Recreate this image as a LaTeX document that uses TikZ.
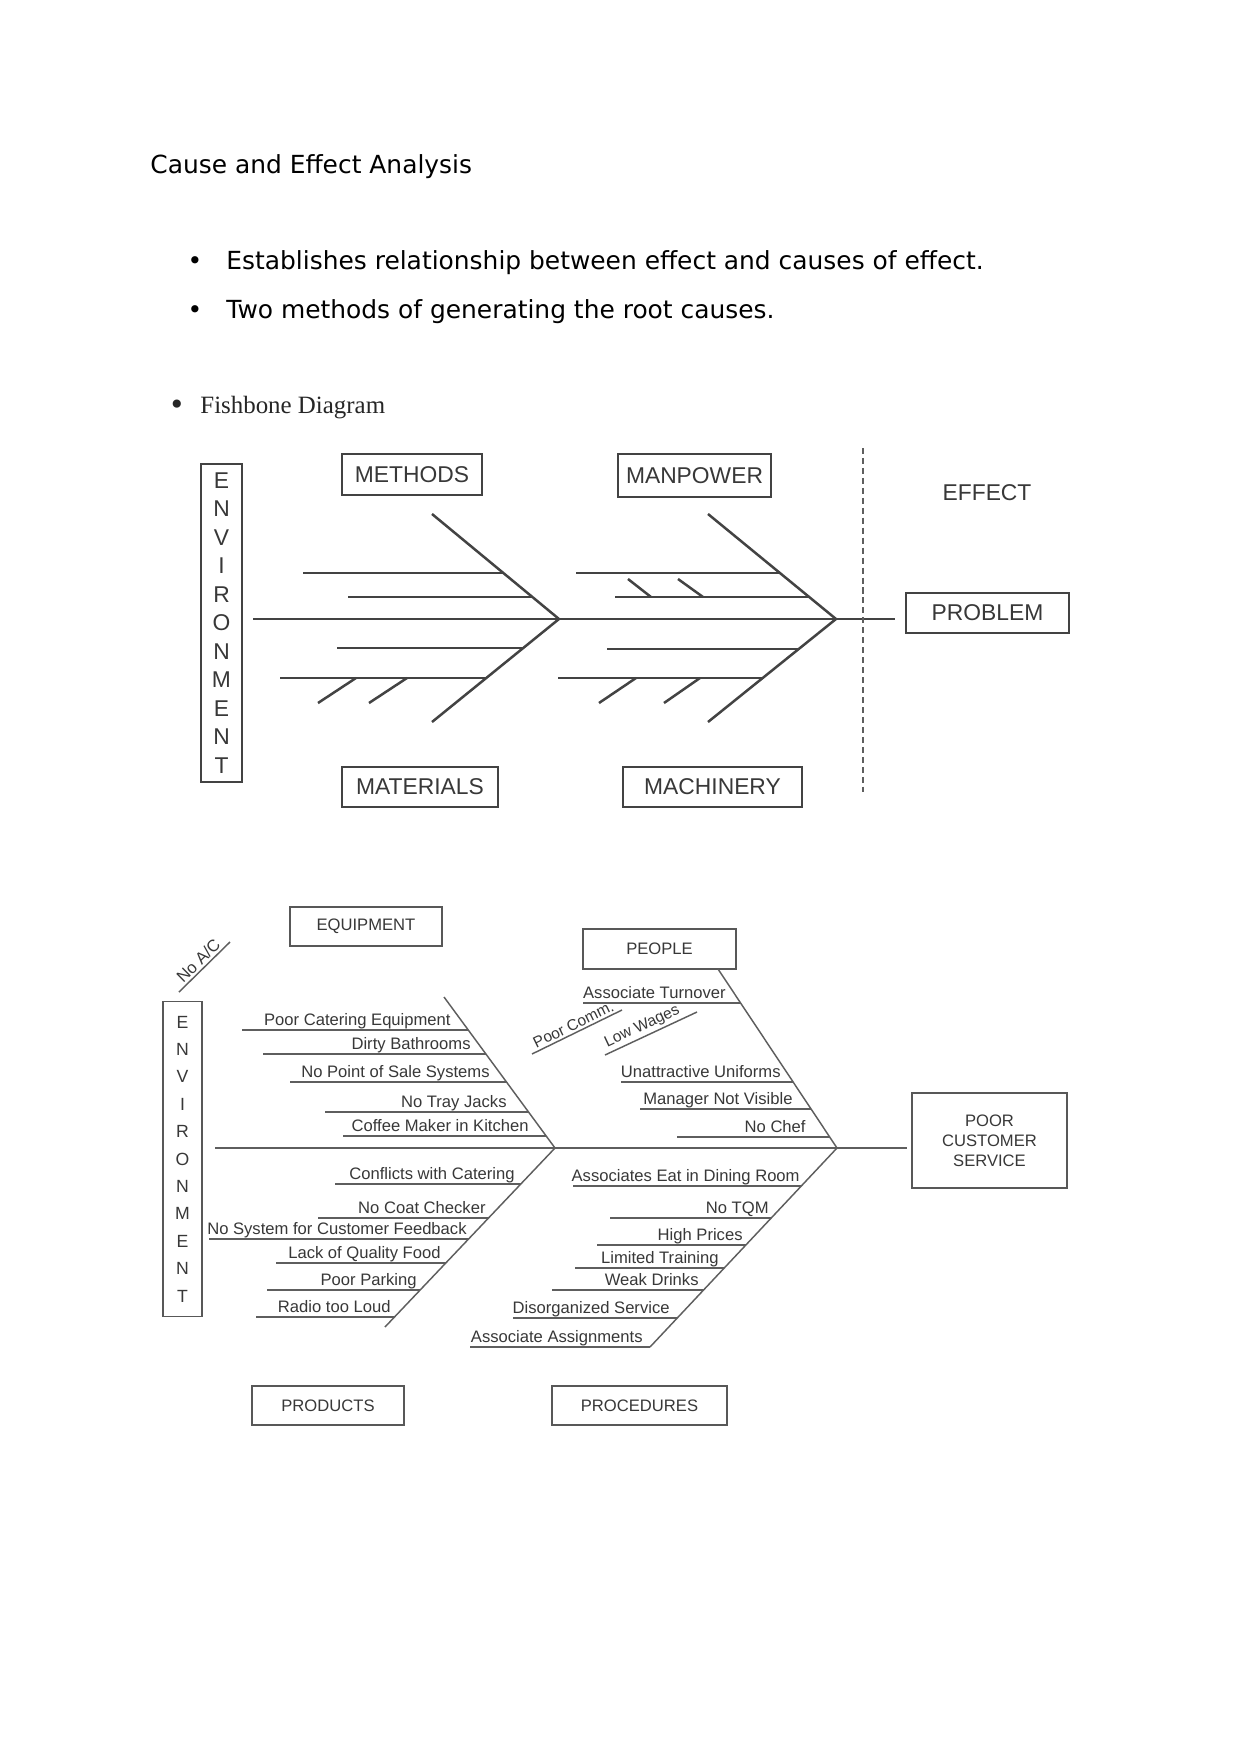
\documentclass[tikz,border=0pt]{standalone}
\usepackage{fontspec}
\setmainfont{DejaVu Sans}
\newfontfamily\helv{Liberation Sans}
\newfontfamily\tms{Liberation Serif}
\usetikzlibrary{positioning}
\definecolor{InkGray}  {HTML}{383838}
\definecolor{BoneGray} {HTML}{434343}
\definecolor{TwigGray} {HTML}{5E5E5E}
\definecolor{FrameGray}{HTML}{585858}
\tikzset{
  bigbox/.style={rectangle,draw=BoneGray,line width=1pt,inner sep=0pt,
                 font=\helv\fontsize{11}{13}\selectfont,text=InkGray},
  smallbox/.style={rectangle,draw=FrameGray,line width=0.8pt,inner sep=0pt,
                   font=\helv\fontsize{8}{9.6}\selectfont,text=InkGray},
  bone/.style={BoneGray,line width=1.2pt},
  twig/.style={TwigGray,line width=0.7pt},
  cause/.style={inner sep=0pt,anchor=base east,
                font=\helv\fontsize{8}{9.6}\selectfont,text=InkGray},
  tiltlbl/.style={inner sep=1pt,font=\helv\fontsize{7.5}{9}\selectfont,text=InkGray},
  bodytext/.style={inner sep=0pt,anchor=base west,font=\fontsize{12}{14}\selectfont},
}

\begin{document}
\begin{tikzpicture}[x=0.4818pt,y=-0.4818pt]
  \useasboundingbox[fill=white] (0,0) rectangle (1241,1754);

  \node[bodytext] (title) at (150,174) {Cause and Effect Analysis};
  \node[bodytext,anchor=base] (dot1) at (195,270) {•};
  \node[bodytext] (pt1) at (226,270) {Establishes relationship between effect and causes of effect.};
  \node[bodytext,anchor=base] (dot2) at (195,319) {•};
  \node[bodytext] (pt2) at (226,319) {Two methods of generating the root causes.};
  \node[bodytext,anchor=base,font=\fontsize{13.5}{14}\selectfont,text=black!85] (dot3) at (177,414) {•};
  \node[bodytext,font=\tms\fontsize{12}{14}\selectfont,text=black!85] (fish) at (200,413) {Fishbone Diagram};

  % generic fishbone
  \node[bigbox,minimum width=19.8pt,minimum height=153.2pt,align=center,
        font=\helv\fontsize{11}{13.73}\selectfont] (envA) at (221.5,623)
    {E\\N\\V\\I\\R\\O\\N\\M\\E\\N\\T};
  \node[bigbox,minimum width=67.5pt,minimum height=19.8pt] (methods)   at (412,474.5) {METHODS};
  \node[bigbox,minimum width=73.7pt,minimum height=20.7pt] (manpower)  at (694.5,475.5) {MANPOWER};
  \node[bigbox,minimum width=75.2pt,minimum height=19.3pt] (materials) at (420,787) {MATERIALS};
  \node[bigbox,minimum width=86.2pt,minimum height=19.3pt] (machinery) at (712.5,787) {MACHINERY};
  \node[bigbox,minimum width=78.5pt,minimum height=19.3pt] (problem)   at (987.5,613) {PROBLEM};
  \node[inner sep=0pt,font=\helv\fontsize{11}{13}\selectfont,text=InkGray] (effect) at (987,493) {EFFECT};

  \coordinate (headA) at (559,619);
  \coordinate (headB) at (836,619);
  \coordinate (tailA) at (253,619);
  \coordinate (tipA)  at (895,619);
  \draw[bone] (tailA) -- (tipA);
  \draw[bone] (432,514) -- (headA) -- (432,722);
  \draw[bone] (708,514) -- (headB) -- (708,722);

  \draw[bone] (303,573) -- (503.4,573);
  \draw[bone] (348,597) -- (532.4,597);
  \draw[bone] (337,648) -- (523.2,648);
  \draw[bone] (280,678) -- (486.3,678);
  \draw[bone] (318,703) -- (356,678);
  \draw[bone] (369,703) -- (407,678);

  \draw[bone] (576,573) -- (779.9,573);
  \draw[bone] (615,597) -- (809.2,597);
  \draw[bone] (628,579) -- (651,597);
  \draw[bone] (678,579) -- (703,597);
  \draw[bone] (607,649) -- (798.7,649);
  \draw[bone] (558,678) -- (762.7,678);
  \draw[bone] (599,703) -- (636,678);
  \draw[bone] (664,703) -- (700,678);

  \draw[TwigGray,line width=0.8pt,dash pattern=on 2.9pt off 1.9pt] (863,448) -- (863,792);

  % restaurant fishbone
  \node[smallbox,minimum width=18.8pt,minimum height=151.8pt,align=center,
        font=\helv\fontsize{8.5}{13.2}\selectfont] (envB) at (182.5,1159)
    {E\\N\\V\\I\\R\\O\\N\\M\\E\\N\\T};
  \node[smallbox,minimum width=73.2pt,minimum height=18.8pt] (equip)      at (366,926.5) {EQUIPMENT};
  \node[smallbox,minimum width=73.7pt,minimum height=19.3pt] (people)     at (659.5,949) {PEOPLE};
  \node[smallbox,minimum width=73.2pt,minimum height=18.8pt] (products)   at (328,1405.5) {PRODUCTS};
  \node[smallbox,minimum width=84.3pt,minimum height=18.8pt] (procedures) at (639.5,1405.5) {PROCEDURES};
  \node[smallbox,minimum width=74.7pt,minimum height=45.8pt,align=center] (pcs) at (989.5,1140.5)
    {POOR\\CUSTOMER\\SERVICE};

  \coordinate (headC) at (555,1148);
  \coordinate (headD) at (837,1148);
  \coordinate (tailC) at (215,1148);
  \coordinate (tipC)  at (907,1148);
  \draw[twig] (tailC) -- (tipC);
  \draw[twig] (444,997) -- (headC) -- (385,1327);
  \draw[twig] (718,969) -- (headD) -- (650,1347);

  \draw[twig] (242,1030) -- (468.3,1030);
  \node[cause] (eq1) at (451,1025) {Poor Catering Equipment};
  \draw[twig] (263,1054) -- (485.9,1054);
  \node[cause] (eq2) at (471,1049) {Dirty Bathrooms};
  \draw[twig] (290,1082) -- (506.5,1082);
  \node[cause] (eq3) at (490,1077) {No Point of Sale Systems};
  \draw[twig] (325,1112) -- (528.5,1112);
  \node[cause] (eq4) at (507,1107) {No Tray Jacks};
  \draw[twig] (343,1136) -- (546.2,1136);
  \node[cause] (eq5) at (529,1131) {Coffee Maker in Kitchen};

  \draw[twig] (335,1184) -- (520.8,1184);
  \node[cause] (pr1) at (515,1179) {Conflicts with Catering};
  \draw[twig] (318,1218) -- (488.5,1218);
  \node[cause] (pr2) at (486,1213) {No Coat Checker};
  \draw[twig] (209,1239) -- (468.6,1239);
  \node[cause] (pr3) at (467,1234) {No System for Customer Feedback};
  \draw[twig] (276,1263) -- (445.8,1263);
  \node[cause] (pr4) at (441,1258) {Lack of Quality Food};
  \draw[twig] (267,1290) -- (420.1,1290);
  \node[cause] (pr5) at (417,1285) {Poor Parking};
  \draw[twig] (256,1317) -- (394.5,1317);
  \node[cause] (pr6) at (391,1312) {Radio too Loud};

  \draw[twig] (583,1003) -- (740.6,1003);
  \node[cause] (pe1) at (726,998) {Associate Turnover};
  \draw[twig] (621,1082) -- (793.1,1082);
  \node[cause] (pe2) at (781,1077) {Unattractive Uniforms};
  \draw[twig] (640,1109) -- (811.1,1109);
  \node[cause] (pe3) at (793,1104) {Manager Not Visible};
  \draw[twig] (677,1137) -- (829.7,1137);
  \node[cause] (pe4) at (806,1132) {No Chef};

  \draw[twig] (573,1186) -- (801.3,1186);
  \node[cause] (pd1) at (800,1181) {Associates Eat in Dining Room};
  \draw[twig] (610,1218) -- (771.2,1218);
  \node[cause] (pd2) at (769,1213) {No TQM};
  \draw[twig] (597,1245) -- (745.8,1245);
  \node[cause] (pd3) at (743,1240) {High Prices};
  \draw[twig] (575,1268) -- (724.2,1268);
  \node[cause] (pd4) at (719,1263) {Limited Training};
  \draw[twig] (552,1290) -- (703.5,1290);
  \node[cause] (pd5) at (699,1285) {Weak Drinks};
  \draw[twig] (513,1318) -- (677.2,1318);
  \node[cause] (pd6) at (670,1313) {Disorganized Service};
  \draw[twig] (470,1347) -- (650,1347);
  \node[cause] (pd7) at (643,1342) {Associate Assignments};

  \draw[twig] (179,992) -- (230,942)
    node[tiltlbl,midway,sloped,above,font=\helv\fontsize{8}{9}\selectfont] (noac) {No A/C};
  \draw[twig] (532,1054) -- (622,1010) node[tiltlbl,midway,sloped,above] (comm) {Poor Comm.};
  \draw[twig] (605,1055) -- (697,1012) node[tiltlbl,pos=0.45,sloped,above] (wages) {Low Wages};

\end{tikzpicture}
\end{document}
